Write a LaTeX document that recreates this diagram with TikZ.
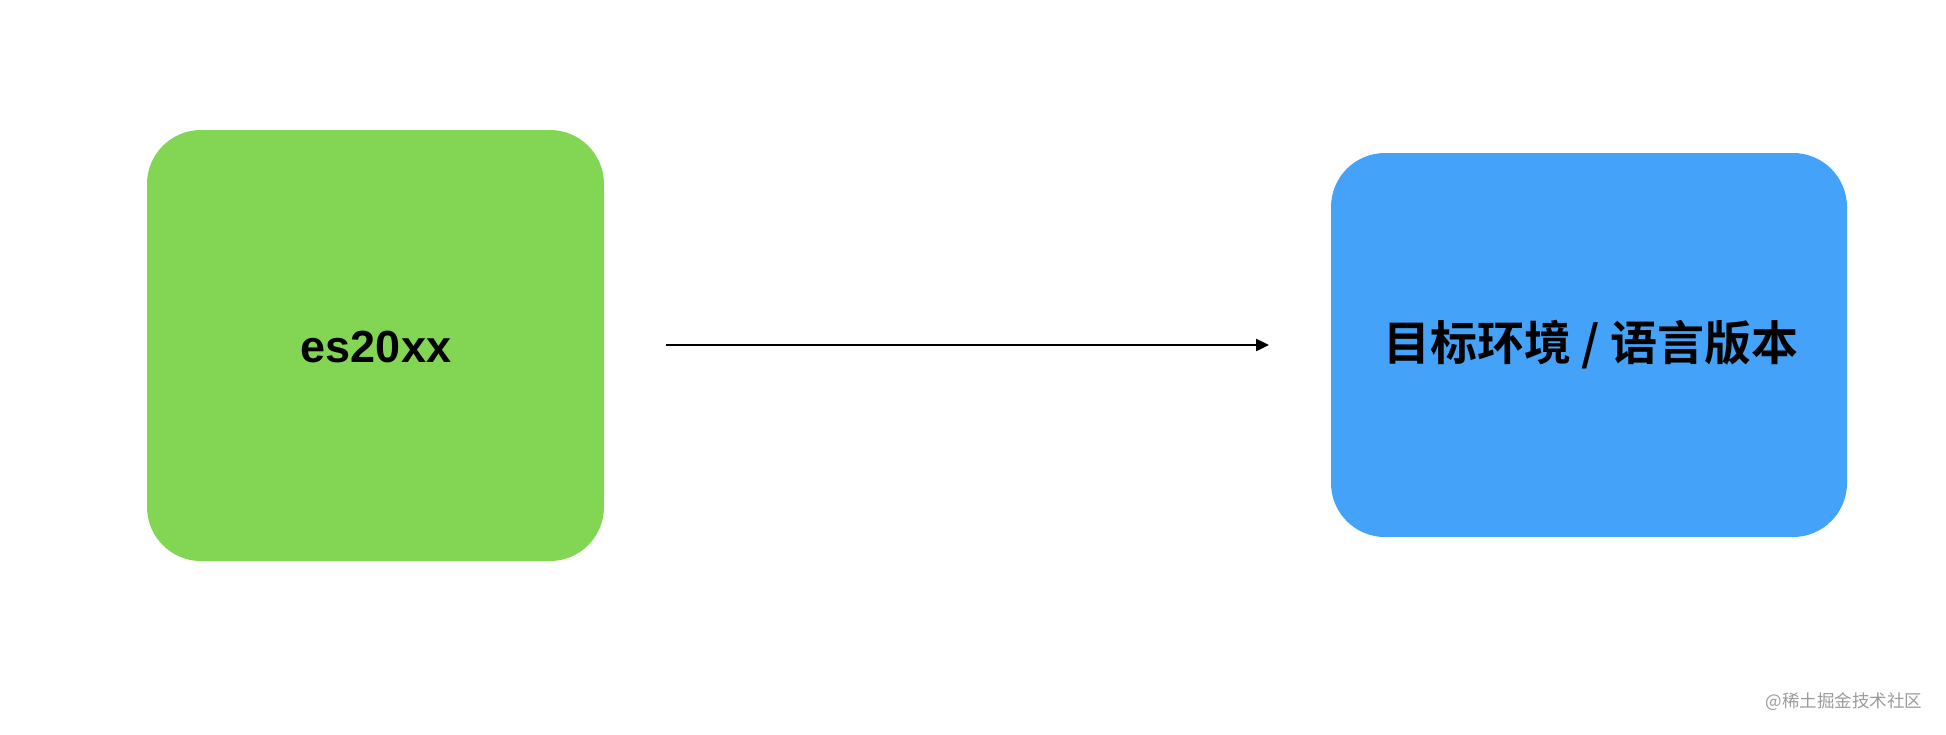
\documentclass[tikz,border=0pt]{standalone}
\usepackage{fontspec}
\setmainfont{Liberation Sans}
\newfontfamily\cjk{Noto Sans CJK SC}[BoldFont=* Bold]
\usetikzlibrary{arrows.meta}
\definecolor{boxgreen}{HTML}{83D654}
\definecolor{boxblue}{HTML}{44A2F8}
\definecolor{wmgray}{HTML}{9C9C9C}
\tikzset{
  box/.style={rounded corners=54pt, draw=none},
  label/.style={font=\fontsize{45}{50}\selectfont\bfseries, text=black},
  conn/.style={line width=2.4pt, -{Triangle[length=13pt,width=12pt]}},
}
\begin{document}
\begin{tikzpicture}[x=1pt,y=-1pt]
\useasboundingbox[fill=white] (0,0) rectangle (1946,734);
\fill[boxgreen, box] (147,130) rectangle (604,561);
\fill[boxblue, box] (1331,153) rectangle (1847,537);
\node[label] (src) at (376,347) {es20xx};
\node[label, font=\fontsize{47}{52}\selectfont\cjk\bfseries] (dst) at (1591,345) {目标环境 / 语言版本};
\coordinate (a) at (666,345);
\coordinate (b) at (1269,345);
\draw[conn] (a) -- (b);
\node[anchor=east, text=wmgray, font=\fontsize{17.5}{19}\selectfont\cjk] (wm) at (1926,702) {@稀土掘金技术社区};
\end{tikzpicture}
\end{document}
